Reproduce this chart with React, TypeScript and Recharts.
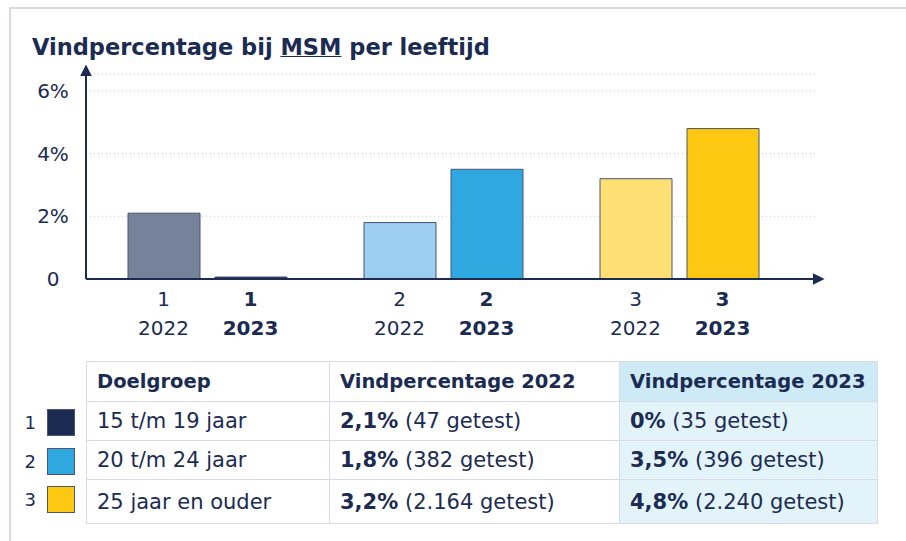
import React from 'react';
import { BarChart, Bar, XAxis, YAxis, CartesianGrid, Cell } from 'recharts';

const groups = ['1', '2', '3'];
const doelgroepen = ['15 t/m 19 jaar', '20 t/m 24 jaar', '25 jaar en ouder'];
const pct2022 = [2.1, 1.8, 3.2];
const pct2023 = [0, 3.5, 4.8];
const getest2022 = ['47', '382', '2.164'];
const getest2023 = ['35', '396', '2.240'];
const yTicks = [0, 2, 4, 6];

const colors2022 = ['#76819a', '#9dcdf0', '#fddf73'];
const colors2023 = ['#1c2b52', '#2fa8e0', '#fcc812'];

const NAVY = '#1c2b52';
const FONT = '"DejaVu Sans", sans-serif';
const BAR_SIZE = 72;
const BAR_GAP = 15;

const data = groups.map((g, i) => ({ name: g, y2022: pct2022[i], y2023: pct2023[i] }));

const fmtPct = (v: number) => String(v).replace('.', ',') + '%';

function XTick({ x, y, payload }: any) {
  const off = (BAR_SIZE + BAR_GAP) / 2;
  return (
    <g fill={NAVY} fontFamily={FONT} fontSize={20}>
      <text x={x - off} y={y + 19} textAnchor="middle">{payload.value}</text>
      <text x={x - off} y={y + 48} textAnchor="middle">2022</text>
      <text x={x + off} y={y + 19} textAnchor="middle" fontWeight={700}>{payload.value}</text>
      <text x={x + off} y={y + 48} textAnchor="middle" fontWeight={700}>2023</text>
    </g>
  );
}

function YTick({ y, payload }: any) {
  return (
    <text x={53} y={y + 7} textAnchor="middle" fill={NAVY} fontFamily={FONT} fontSize={20}>
      {payload.value === 0 ? '0' : payload.value + '%'}
    </text>
  );
}

export default function App() {
  const cell = { padding: '0 10px', borderRight: '1px solid #d8dbe6', borderBottom: '1px solid #d8dbe6', whiteSpace: 'nowrap' as const };
  return (
    <div style={{ position: 'absolute', left: 0, top: 0, width: 906, height: 541, background: '#fff', fontFamily: FONT, color: NAVY, overflow: 'hidden' }}>
      <div style={{ position: 'absolute', left: 9, top: 7, right: 0, bottom: 0, borderTop: '2px solid #d8dbe6', borderLeft: '2px solid #d8dbe6' }} />
      <div style={{ position: 'absolute', left: 32, top: 34, fontSize: 22.5, fontWeight: 700, whiteSpace: 'nowrap' }}>
        Vindpercentage bij <span style={{ textDecoration: 'underline', textDecorationThickness: 1 }}>MSM</span> per leeftijd
      </div>
      <div style={{ position: 'absolute', left: 0, top: 0 }}>
        <BarChart width={906} height={350} data={data} margin={{ top: 74, right: 91, bottom: 11, left: 26 }}
          barSize={BAR_SIZE} barGap={BAR_GAP}>
          <defs>
            <marker id="arr" viewBox="0 0 10 10" refX="2" refY="5" markerWidth="6" markerHeight="6" orient="auto-start-reverse" markerUnits="strokeWidth">
              <path d="M0,0 L10,5 L0,10 z" fill={NAVY} />
            </marker>
          </defs>
          <CartesianGrid horizontal vertical={false} stroke="#c5c9dc" strokeDasharray="1 3" />
          <XAxis dataKey="name" tickLine={false} height={60} padding={{ left: 3, right: 18 }}
            axisLine={{ stroke: NAVY, strokeWidth: 2, markerEnd: 'url(#arr)' } as any} tick={<XTick />} interval={0} />
          <YAxis width={60} domain={[0, 6.54]} ticks={yTicks} tickLine={false} allowDataOverflow
            axisLine={{ stroke: NAVY, strokeWidth: 2, markerStart: 'url(#arr)' } as any} tick={<YTick />} />
          <Bar dataKey="y2022" isAnimationActive={false} stroke="#4a5573" strokeWidth={1}>
            {data.map((d, i) => <Cell key={i} fill={colors2022[i]} />)}
          </Bar>
          <Bar dataKey="y2023" isAnimationActive={false} stroke="#4a5573" strokeWidth={1} minPointSize={2}>
            {data.map((d, i) => <Cell key={i} fill={colors2023[i]} />)}
          </Bar>
        </BarChart>
      </div>
      {doelgroepen.map((d, i) => (
        <div key={i} style={{ position: 'absolute', left: 20, top: 409 + i * 38.5, height: 27, display: 'flex', alignItems: 'center' }}>
          <span style={{ width: 16, textAlign: 'right', fontSize: 18, marginRight: 11 }}>{groups[i]}</span>
          <span style={{ width: 26, height: 25, background: colors2023[i], border: '1px solid #4a5573', display: 'inline-block' }} />
        </div>
      ))}
      <table style={{ position: 'absolute', left: 86, top: 361, width: 791, tableLayout: 'fixed', borderCollapse: 'collapse', borderTop: '1px solid #d8dbe6', borderLeft: '1px solid #d8dbe6', fontSize: 21, color: NAVY }}>
        <colgroup>
          <col style={{ width: 243 }} />
          <col style={{ width: 290 }} />
          <col style={{ width: 258 }} />
        </colgroup>
        <tbody>
          <tr style={{ height: 40, fontWeight: 700, fontSize: 19.5 }}>
            <td style={cell}>Doelgroep</td>
            <td style={cell}>Vindpercentage 2022</td>
            <td style={{ ...cell, background: '#cdeaf6' }}>Vindpercentage 2023</td>
          </tr>
          {doelgroepen.map((d, i) => (
            <tr key={i} style={{ height: i === 2 ? 44 : 39 }}>
              <td style={cell}>{d}</td>
              <td style={cell}><b>{fmtPct(pct2022[i])}</b> ({getest2022[i]} getest)</td>
              <td style={{ ...cell, background: '#e2f3fa' }}><b>{fmtPct(pct2023[i])}</b> ({getest2023[i]} getest)</td>
            </tr>
          ))}
        </tbody>
      </table>
    </div>
  );
}
